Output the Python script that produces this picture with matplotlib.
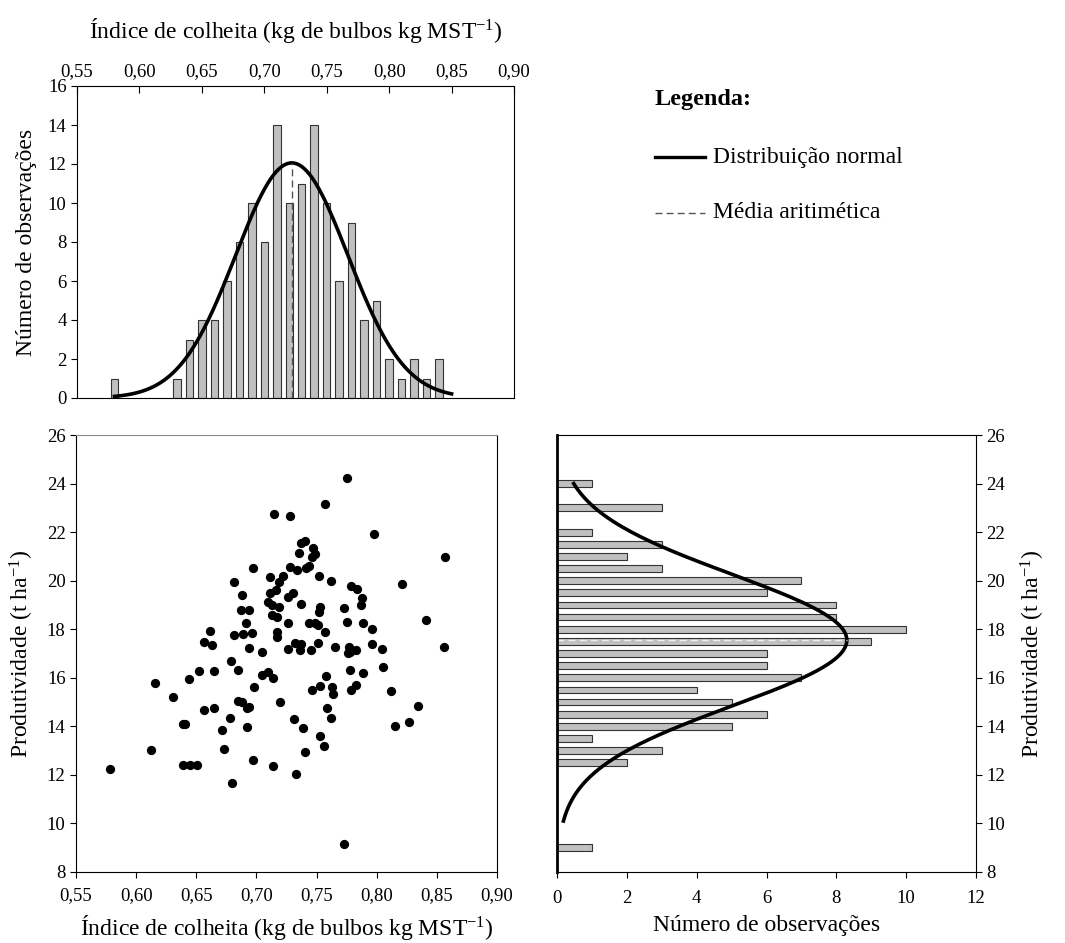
import numpy as np
import matplotlib.pyplot as plt
from matplotlib.lines import Line2D

plt.rcParams['font.family'] = ['Liberation Serif', 'DejaVu Serif']
plt.rcParams['mathtext.fontset'] = 'custom'
plt.rcParams['mathtext.rm'] = 'Liberation Serif'
plt.rcParams['mathtext.it'] = 'Liberation Serif:italic'

# histogram of harvest index (top)
ic_bins = [0.58, 0.63, 0.64, 0.65, 0.66, 0.67, 0.68, 0.69, 0.70, 0.71, 0.72, 0.73,
           0.74, 0.75, 0.76, 0.77, 0.78, 0.79, 0.80, 0.81, 0.82, 0.83, 0.84]
ic_counts = [1, 1, 3, 4, 4, 6, 8, 10, 8, 14, 10, 11, 14, 10, 6, 9, 4, 5, 2, 1, 2, 1, 2]
ic_mean = 0.722
ic_sd = 0.045
ic_n = 136

# histogram of yield (right)
prod_bins = [9.0, 12.5, 13.0, 13.5, 14.0, 14.5, 15.0, 15.5, 16.0, 16.5, 17.0, 17.5,
             18.0, 18.5, 19.0, 19.5, 20.0, 20.5, 21.0, 21.5, 22.0, 23.0, 24.0]
prod_counts = [1, 2, 3, 1, 5, 6, 5, 4, 7, 6, 6, 9, 10, 8, 8, 6, 7, 3, 2, 3, 1, 3, 1]
prod_mean = 17.55
prod_sd = 2.7
prod_peak = 8.3

# scatter: harvest index vs yield
ic_obs = [0.681, 0.688, 0.775, 0.757, 0.715, 0.728, 0.798, 0.857, 0.697, 0.737,
          0.740, 0.747, 0.735, 0.749, 0.746, 0.728, 0.734, 0.741, 0.744, 0.752,
          0.762, 0.711, 0.722, 0.719, 0.716, 0.711, 0.730, 0.726, 0.779, 0.784,
          0.788, 0.821, 0.687, 0.694, 0.691, 0.661, 0.656, 0.663, 0.681, 0.689,
          0.694, 0.679, 0.685, 0.652, 0.665, 0.644, 0.616, 0.631, 0.656, 0.665,
          0.685, 0.688, 0.692, 0.694, 0.678, 0.639, 0.641, 0.671, 0.692, 0.612,
          0.673, 0.639, 0.645, 0.651, 0.578, 0.680, 0.710, 0.713, 0.719, 0.713,
          0.717, 0.737, 0.753, 0.752, 0.773, 0.787, 0.696, 0.717, 0.717, 0.726,
          0.744, 0.749, 0.751, 0.757, 0.775, 0.789, 0.796, 0.841, 0.856, 0.732,
          0.737, 0.736, 0.726, 0.745, 0.751, 0.765, 0.777, 0.776, 0.783, 0.778,
          0.796, 0.804, 0.805, 0.705, 0.705, 0.710, 0.714, 0.698, 0.720, 0.758,
          0.746, 0.753, 0.763, 0.764, 0.778, 0.789, 0.783, 0.779, 0.812, 0.834,
          0.759, 0.762, 0.731, 0.739, 0.753, 0.756, 0.740, 0.697, 0.714, 0.733,
          0.815, 0.827, 0.773]
prod_obs = [19.93, 19.42, 24.21, 23.17, 22.74, 22.65, 21.92, 20.99, 20.51, 21.56,
            21.63, 21.33, 21.14, 21.08, 20.96, 20.55, 20.43, 20.52, 20.60, 20.19,
            20.00, 20.14, 20.20, 19.96, 19.63, 19.48, 19.50, 19.34, 19.79, 19.67,
            19.27, 19.87, 18.79, 18.79, 18.24, 17.93, 17.49, 17.34, 17.76, 17.79,
            17.21, 16.69, 16.31, 16.28, 16.28, 15.94, 15.77, 15.21, 14.67, 14.74,
            15.04, 14.99, 14.74, 14.81, 14.34, 14.11, 14.11, 13.84, 13.97, 13.01,
            13.07, 12.39, 12.39, 12.42, 12.23, 11.65, 19.13, 19.00, 18.93, 18.58,
            18.52, 19.04, 18.90, 18.72, 18.86, 19.00, 17.83, 17.90, 17.69, 18.24,
            18.24, 18.27, 18.17, 17.90, 18.28, 18.27, 18.02, 18.39, 17.28, 17.42,
            17.38, 17.14, 17.18, 17.14, 17.42, 17.28, 17.28, 17.01, 17.14, 17.07,
            17.40, 17.18, 16.46, 17.05, 16.11, 16.22, 15.98, 15.61, 14.99, 16.07,
            15.50, 15.66, 15.63, 15.32, 16.33, 16.21, 15.69, 15.50, 15.47, 14.85,
            14.74, 14.34, 14.30, 13.94, 13.61, 13.18, 12.93, 12.60, 12.38, 12.02,
            14.00, 14.17, 9.15]

xlabel_ic = r'Índice de colheita (kg de bulbos kg MST$^{-1}$)'
ylabel_n = 'Número de observações'
ylabel_prod = r'Produtividade (t ha$^{-1}$)'

bar_fill = '#c0c0c0'
bar_edge = '#333333'
tick_fs = 13.5
label_fs = 17

W, H = 1065, 943
fig = plt.figure(figsize=(W / 100, H / 100), dpi=100)


def box(l, t, r, b):
    return [l / W, 1 - b / H, (r - l) / W, (b - t) / H]


def comma(vals, fmt):
    return [fmt.format(v).replace('.', ',') for v in vals]


ic_ticks = np.arange(0.55, 0.901, 0.05)

# top histogram
ax_top = fig.add_axes(box(77, 86, 514, 398))
ax_top.bar(ic_bins, ic_counts, width=0.006, color=bar_fill, edgecolor=bar_edge, linewidth=0.8)
xs = np.linspace(0.58, 0.85, 300)
top_peak = ic_n * 0.01 / (ic_sd * np.sqrt(2 * np.pi))
ax_top.plot(xs, top_peak * np.exp(-(xs - ic_mean) ** 2 / (2 * ic_sd ** 2)), color='black', lw=2.6)
ax_top.plot([ic_mean, ic_mean], [0, top_peak], color='#555555', lw=1, ls=(0, (5, 3)))
ax_top.set_xlim(0.55, 0.90)
ax_top.set_ylim(0, 16)
ax_top.xaxis.tick_top()
ax_top.xaxis.set_label_position('top')
ax_top.set_xticks(ic_ticks)
ax_top.set_xticklabels(comma(ic_ticks, '{:.2f}'))
ax_top.set_yticks(range(0, 17, 2))
ax_top.set_xlabel(xlabel_ic, fontsize=label_fs, labelpad=18)
ax_top.set_ylabel(ylabel_n, fontsize=label_fs, labelpad=8)
ax_top.tick_params(axis='x', direction='in', length=5, labelsize=tick_fs, pad=4)
ax_top.tick_params(axis='y', direction='out', length=4, labelsize=tick_fs)

# scatter
ax_sc = fig.add_axes(box(76, 435, 497, 872))
ax_sc.scatter(ic_obs, prod_obs, s=32, color='black', zorder=3)
ax_sc.set_xlim(0.55, 0.90)
ax_sc.set_ylim(8, 26)
ax_sc.set_xticks(ic_ticks)
ax_sc.set_xticklabels(comma(ic_ticks, '{:.2f}'))
ax_sc.set_yticks(range(8, 27, 2))
ax_sc.spines['top'].set_color('#888888')
ax_sc.set_xlabel(xlabel_ic, fontsize=label_fs, labelpad=6)
ax_sc.set_ylabel(ylabel_prod, fontsize=label_fs, labelpad=8)
ax_sc.tick_params(direction='out', length=4, labelsize=tick_fs)
ax_sc.tick_params(axis='x', pad=7)

# right histogram
ax_rh = fig.add_axes(box(557, 435, 976, 872))
ax_rh.barh(prod_bins, prod_counts, height=0.28, color=bar_fill, edgecolor=bar_edge, linewidth=0.8)
ys = np.linspace(10.1, 24.0, 300)
ax_rh.plot(prod_peak * np.exp(-(ys - prod_mean) ** 2 / (2 * prod_sd ** 2)), ys, color='black', lw=2.6)
ax_rh.plot([0, prod_peak], [prod_mean, prod_mean], color='#eeeeee', lw=1, ls=(0, (5, 3)))
ax_rh.set_xlim(0, 12)
ax_rh.set_ylim(8, 26)
ax_rh.set_xticks(range(0, 13, 2))
ax_rh.set_yticks(range(8, 27, 2))
ax_rh.yaxis.tick_right()
ax_rh.yaxis.set_label_position('right')
ax_rh.spines['left'].set_linewidth(2)
ax_rh.set_xlabel(ylabel_n, fontsize=label_fs, labelpad=6)
ax_rh.set_ylabel(ylabel_prod, fontsize=label_fs, labelpad=10)
ax_rh.tick_params(direction='out', length=4, labelsize=tick_fs)
ax_rh.tick_params(axis='x', pad=9)

# legend
fig.text(655 / W, 1 - 100 / H, 'Legenda:', fontsize=17.5, fontweight='bold', va='center')
fig.add_artist(Line2D([655 / W, 705 / W], [1 - 157 / H] * 2, color='black', lw=2.4))
fig.text(713 / W, 1 - 157 / H, 'Distribuição normal', fontsize=17, va='center')
fig.add_artist(Line2D([655 / W, 705 / W], [1 - 213 / H] * 2, color='#555555', lw=1, ls=(0, (5, 3))))
fig.text(713 / W, 1 - 213 / H, 'Média aritimética', fontsize=17, va='center')

fig.savefig('out.png', dpi=100)
